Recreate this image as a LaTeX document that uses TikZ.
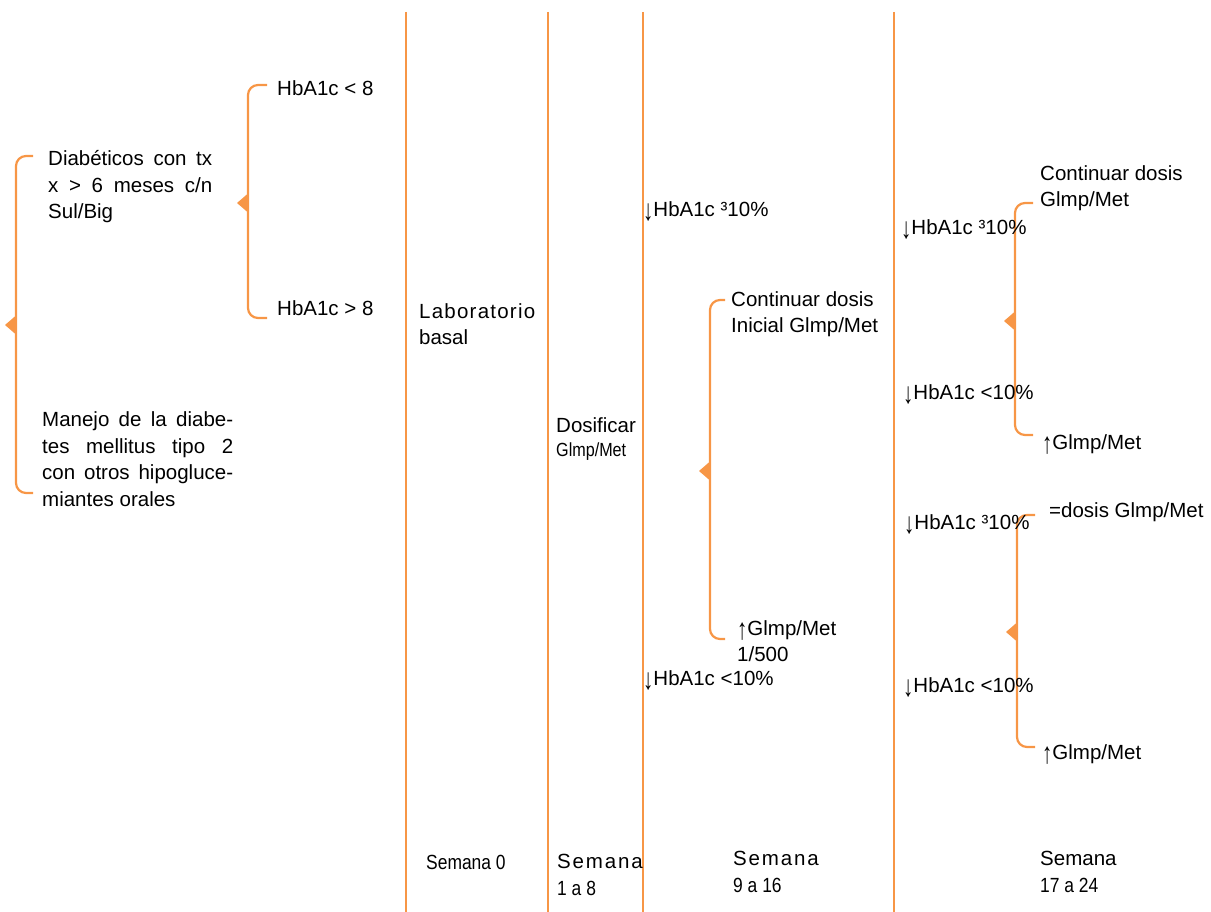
\documentclass[tikz,border=0pt]{standalone}
\usepackage{fontspec}
\setmainfont{Liberation Sans}
\newfontfamily\spacedfont[LetterSpace=6]{Liberation Sans}
\newfontfamily\widefont[LetterSpace=9]{Liberation Sans}
\newfontfamily\narrowfont[FakeStretch=0.85]{Liberation Sans}
\usepackage{graphicx}
\usepackage{xcolor}
\definecolor{bracketorange}{RGB}{247,150,70}

% justified line of given width
\newcommand{\jline}[2]{\makebox[#1][s]{#2}}
% taller arrows, as in the original
\newcommand{\dn}{\raisebox{-4pt}{\scalebox{1}[1.45]{↓}}}
\newcommand{\up}{\raisebox{-4pt}{\scalebox{1}[1.45]{↑}}}
% bracket: x, top, bottom, middle, arm end
\newcommand{\bracebar}[5]{%
  \draw[brk] (#5,#2) -- (#1,#2) -- (#1,#3) -- (#5,#3);
  \fill[bracketorange] (#1,#4-9.5) -- (#1-11,#4) -- (#1,#4+9.5) -- cycle;}

\begin{document}
\begin{tikzpicture}[x=1pt, y=-1pt,
        txt/.style={anchor=west, inner sep=0pt, align=left, font=\fontsize{20.5}{26.5}\selectfont},
        vline/.style={draw=bracketorange, line width=2.2pt},
        brk/.style={draw=bracketorange, line width=2.2pt, rounded corners=10pt}
    ]
        \useasboundingbox (0,0) rectangle (1211,912);

        % Week separators
        \foreach \xx in {406,548,643,894}
            \draw[vline] (\xx,12) -- (\xx,912);

        % Brackets
        \bracebar{16}{156}{493}{325}{33}
        \bracebar{248}{85}{318}{203}{267}
        \bracebar{710}{300}{639}{471}{725}
        \bracebar{1015}{203}{435}{321}{1033}
        \bracebar{1017}{515}{747}{632}{1035}

        % Patients
        \node[txt] (diab) at (48,187) {\jline{164pt}{Diabéticos con tx}\\\jline{164pt}{x > 6 meses c/n}\\Sul/Big};
        \node[txt] (manejo) at (42,459) {\jline{191pt}{Manejo de la diabe-}\\\jline{191pt}{tes mellitus tipo 2}\\\jline{191pt}{con otros hipogluce-}\\miantes orales};
        \node[txt] (hblow) at (277,88) {HbA1c < 8};
        \node[txt] (hbhigh) at (277,308) {HbA1c > 8};

        % Week 0 and 1-8
        \node[txt] (lab) at (419,324) {{\spacedfont Laboratorio}\\basal};
        \node[txt] (dosif) at (556,425) {Dosificar};
        \node[txt, font=\narrowfont\fontsize{19}{22}\selectfont] (glmp) at (556,452) {Glmp/Met};

        % Week 9-16
        \node[txt] (dn1) at (643,212) {\dn HbA1c ³10\%};
        \node[txt] (cont1) at (731,314) {Continuar dosis\\Inicial Glmp/Met};
        \node[txt] (up1) at (737,641) {\up Glmp/Met\\1/500};
        \node[txt] (dn2) at (643,681) {\dn HbA1c <10\%};

        % Week 17-24
        \node[txt] (dn3) at (901,230) {\dn HbA1c ³10\%};
        \node[txt] (cont2) at (1040,188) {Continuar dosis\\Glmp/Met};
        \node[txt] (dn4) at (903,395) {\dn HbA1c <10\%};
        \node[txt] (up2) at (1042,445) {\up Glmp/Met};
        \node[txt] (same) at (1049,512) {=dosis Glmp/Met};
        \node[txt] (dn5) at (904,525) {\dn HbA1c ³10\%};
        \node[txt] (dn6) at (903,688) {\dn HbA1c <10\%};
        \node[txt] (up3) at (1042,755) {\up Glmp/Met};

        % Weeks
        \node[txt] (sem0) at (426,862) {{\narrowfont Semana 0}};
        \node[txt] (sem1) at (557,875) {{\widefont Semana}\\{\narrowfont 1 a 8}};
        \node[txt] (sem2) at (733,872) {{\widefont Semana}\\{\narrowfont 9 a 16}};
        \node[txt] (sem3) at (1040,872) {Semana\\{\narrowfont 17 a 24}};

    \end{tikzpicture}
\end{document}
